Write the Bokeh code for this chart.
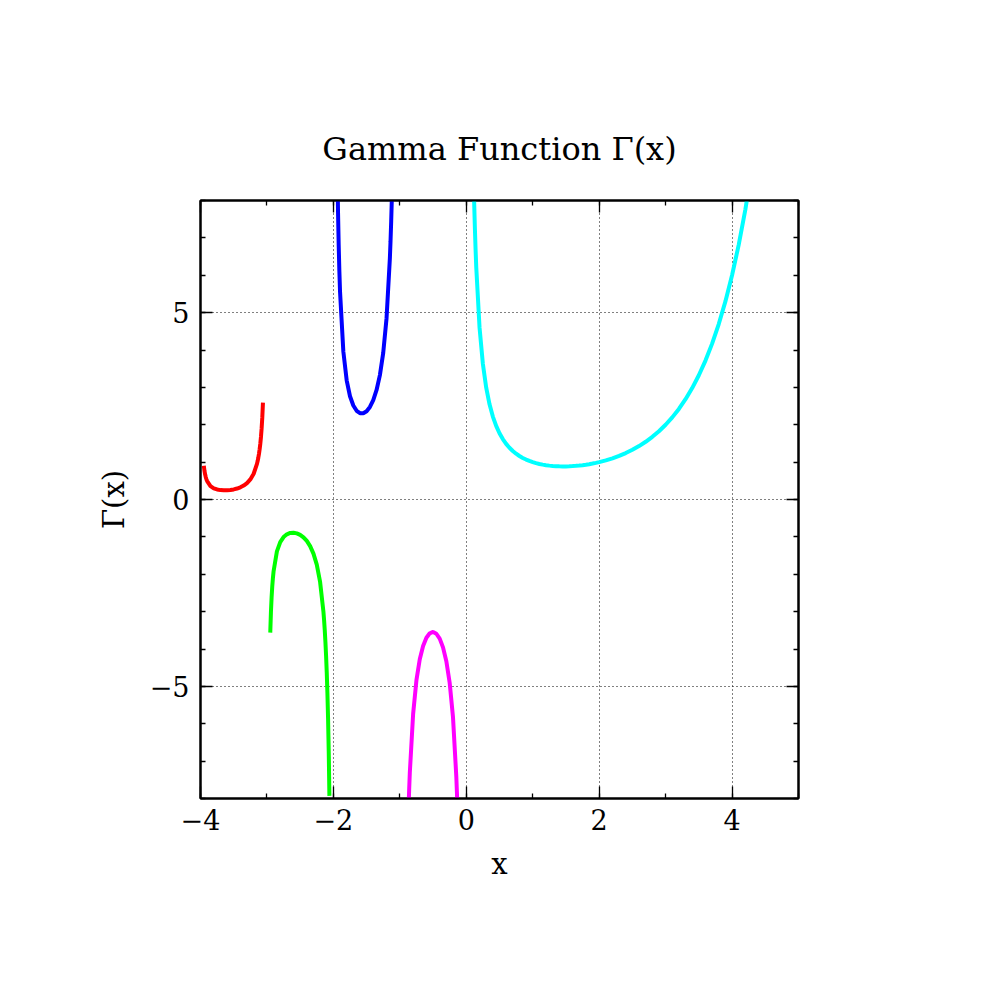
from bokeh.plotting import figure
from bokeh.models import Range1d, LinearAxis, FixedTicker
from bokeh.embed import file_html
from bokeh.resources import INLINE

TITLE = "Gamma Function Γ(x)"
X_LABEL = "x"
Y_LABEL = "Γ(x)"

X_MAJOR = [-4, -2, 0, 2, 4]
X_MINOR = [-4, -3, -2, -1, 0, 1, 2, 3, 4, 5]
Y_MAJOR = [-5, 0, 5]
Y_MINOR = [-8, -7, -6, -5, -4, -3, -2, -1, 0, 1, 2, 3, 4, 5, 6, 7, 8]
X_LABELS = {-4: "−4", -2: "−2", 0: "0", 2: "2", 4: "4"}
Y_LABELS = {-5: "−5", 0: "0", 5: "5"}

# segment on (-4,-3)
red_x = [-3.95, -3.94, -3.93, -3.92, -3.91, -3.90, -3.85, -3.80, -3.75, -3.70,
         -3.65, -3.60, -3.55, -3.50, -3.45, -3.40, -3.35, -3.30, -3.25, -3.20,
         -3.15, -3.14, -3.13, -3.12, -3.11, -3.10, -3.09, -3.08, -3.07, -3.06]
red_y = [0.902, 0.7645, 0.6664, 0.5934, 0.5368, 0.4921, 0.3605, 0.2996, 0.2678, 0.2516,
         0.2454, 0.2469, 0.2551, 0.2701, 0.2930, 0.3258, 0.3723, 0.4385, 0.5363, 0.6891,
         0.9524, 1.0283, 1.1169, 1.2208, 1.3441, 1.4923, 1.674, 1.9024, 2.197, 2.59]

# segment on (-3,-2)
green_x = [-2.95, -2.94, -2.93, -2.92, -2.91, -2.90, -2.85, -2.80, -2.75, -2.70,
           -2.65, -2.60, -2.55, -2.50, -2.45, -2.40, -2.35, -2.30, -2.25, -2.20,
           -2.15, -2.14, -2.13, -2.12, -2.11, -2.10, -2.09, -2.08, -2.07, -2.06]
green_y = [-3.563, -3.012, -2.619, -2.326, -2.099, -1.919, -1.388, -1.1386, -1.0044, -0.9311,
           -0.8958, -0.8888, -0.9055, -0.9453, -1.0110, -1.1079, -1.2472, -1.4470, -1.7431, -2.2050,
           -3.000, -3.229, -3.496, -3.809, -4.180, -4.626, -5.173, -5.860, -6.745, -7.93]

# segment on (-2,-1)
blue_x = [-1.95, -1.94, -1.93, -1.92, -1.91, -1.90, -1.85, -1.80, -1.75, -1.70,
          -1.65, -1.60, -1.55, -1.50, -1.45, -1.40, -1.35, -1.30, -1.25, -1.20,
          -1.15, -1.14, -1.13, -1.12, -1.11, -1.10, -1.09, -1.08, -1.07, -1.06]
blue_y = [10.510, 8.856, 7.674, 6.792, 6.108, 5.564, 3.956, 3.188, 2.762, 2.514,
          2.374, 2.311, 2.309, 2.3633, 2.477, 2.659, 2.931, 3.328, 3.922, 4.851,
          6.450, 6.911, 7.447, 8.075, 8.821, 9.715, 10.812, 12.188, 13.96, 16.33]

# segment on (-1,0)
magenta_x = [-0.95, -0.94, -0.93, -0.92, -0.91, -0.90, -0.88, -0.86, -0.85, -0.80,
             -0.75, -0.70, -0.65, -0.60, -0.55, -0.50, -0.45, -0.40, -0.35, -0.30,
             -0.25, -0.20, -0.15, -0.14, -0.13, -0.12, -0.10, -0.06]
magenta_y = [-20.495, -17.18, -14.81, -13.04, -11.666, -10.571, -8.935, -7.778, -7.318, -5.739,
             -4.834, -4.274, -3.917, -3.697, -3.579, -3.5449, -3.592, -3.723, -3.957, -4.327,
             -4.902, -5.821, -7.417, -7.879, -8.415, -9.044, -10.686, -17.31]

# segment on (0, ...)
cyan_x = [0.05, 0.06, 0.07, 0.08, 0.09, 0.10, 0.11, 0.12, 0.13, 0.14,
          0.15, 0.20, 0.25, 0.30, 0.35, 0.40, 0.45, 0.50, 0.55, 0.60,
          0.65, 0.70, 0.75, 0.80, 0.85, 0.90, 0.95, 1.00, 1.05, 1.10,
          1.15, 1.20, 1.25, 1.30, 1.35, 1.40, 1.45, 1.50, 1.55, 1.60,
          1.65, 1.70, 1.75, 1.80, 1.85, 1.90, 1.95, 2.00, 2.10, 2.20,
          2.30, 2.40, 2.50, 2.60, 2.70, 2.80, 2.90, 3.00, 3.10, 3.20,
          3.30, 3.40, 3.50, 3.60, 3.70, 3.80, 3.90, 4.00, 4.10, 4.20,
          4.30, 4.40]
cyan_y = [19.470, 16.146, 13.774, 11.997, 10.616, 9.514, 8.613, 7.863, 7.2305, 6.689,
          6.220, 4.591, 3.6256, 2.9917, 2.5463, 2.2182, 1.9682, 1.7725, 1.6162, 1.4892,
          1.3848, 1.2980, 1.2254, 1.1642, 1.1125, 1.0686, 1.0315, 1.0000, 0.9735, 0.9514,
          0.9330, 0.9182, 0.9064, 0.8975, 0.8912, 0.8873, 0.8857, 0.8862, 0.8889, 0.8935,
          0.9001, 0.9086, 0.9191, 0.9314, 0.9456, 0.9618, 0.9799, 1.0000, 1.0465, 1.1018,
          1.1668, 1.2422, 1.3293, 1.4296, 1.5446, 1.6765, 1.8274, 2.0000, 2.1976, 2.4240,
          2.6837, 2.9813, 3.3234, 3.7170, 4.1705, 4.6942, 5.2995, 6.0000, 6.8126, 7.7568,
          8.8562, 10.136]

SERIES = [
    (red_x, red_y, "#ff0000"),
    (green_x, green_y, "#00ff00"),
    (blue_x, blue_y, "#0000ff"),
    (magenta_x, magenta_y, "#ff00ff"),
    (cyan_x, cyan_y, "#00ffff"),
]

FONT = "DejaVu Serif"

p = figure(width=990, height=990, output_backend="svg", toolbar_location=None,
           x_range=Range1d(-4, 5), y_range=Range1d(-8, 8),
           min_border_left=200, min_border_right=192,
           min_border_top=200, min_border_bottom=192,
           title=TITLE, x_axis_label=X_LABEL, y_axis_label=Y_LABEL)

p.background_fill_color = "white"
p.border_fill_color = "white"
p.outline_line_color = "black"
p.outline_line_width = 2

p.title.text_font = FONT
p.title.text_font_size = "32px"
p.title.text_font_style = "normal"
p.title.text_color = "black"
p.title.align = "center"
p.title.standoff = 66

for xs, ys, col in SERIES:
    p.line(xs, ys, line_color=col, line_width=4)


def style_axis(ax, major, minor, labels, show_labels):
    ax.ticker = FixedTicker(ticks=major, minor_ticks=minor)
    ax.major_tick_in = 12
    ax.major_tick_out = 0
    ax.minor_tick_in = 5
    ax.minor_tick_out = 0
    ax.major_tick_line_color = "black"
    ax.minor_tick_line_color = "black"
    ax.major_tick_line_width = 1.3
    ax.minor_tick_line_width = 1.3
    ax.axis_line_color = "black"
    ax.axis_line_width = 2
    if show_labels:
        ax.major_label_overrides = labels
        ax.major_label_text_font = FONT
        ax.major_label_text_font_size = "27px"
        ax.major_label_text_color = "black"
        ax.axis_label_text_font = FONT
        ax.axis_label_text_font_size = "29px"
        ax.axis_label_text_font_style = "normal"
        ax.axis_label_text_color = "black"
    else:
        ax.major_label_text_color = None
        ax.major_label_text_font_size = "2px"
        ax.major_label_standoff = 0


xa = p.xaxis[0]
ya = p.yaxis[0]
style_axis(xa, X_MAJOR, X_MINOR, X_LABELS, True)
style_axis(ya, Y_MAJOR, Y_MINOR, Y_LABELS, True)
xa.major_label_standoff = 10
xa.axis_label_standoff = 14
ya.major_label_standoff = 11
ya.axis_label_standoff = 16
ya.major_label_orientation = "horizontal"

top = LinearAxis()
style_axis(top, X_MAJOR, X_MINOR, X_LABELS, False)
p.add_layout(top, "above")
right = LinearAxis()
style_axis(right, Y_MAJOR, Y_MINOR, Y_LABELS, False)
p.add_layout(right, "right")

p.xgrid.ticker = FixedTicker(ticks=X_MAJOR)
p.ygrid.ticker = FixedTicker(ticks=Y_MAJOR)
for g in (p.xgrid[0], p.ygrid[0]):
    g.grid_line_color = "black"
    g.grid_line_width = 1
    g.grid_line_dash = "1 3"
    g.minor_grid_line_color = None

open("out.html", "w").write(file_html(p, INLINE))
